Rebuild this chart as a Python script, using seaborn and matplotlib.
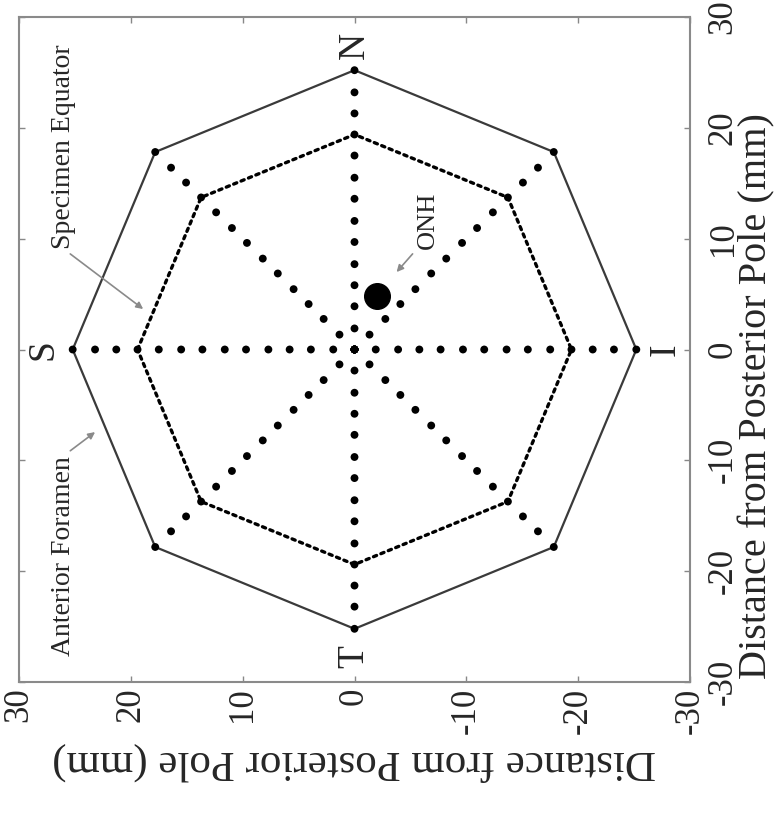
import numpy as np
import pandas as pd
import matplotlib
matplotlib.use("Agg")
import matplotlib.pyplot as plt
import seaborn as sns

# spoke sampling points (mm from posterior pole, along each meridian)
spoke_angles = [0, 45, 90, 135, 180, 225, 270, 315]
spoke_radii = [0, 1.9, 3.9, 5.8, 7.7, 9.7, 11.6, 13.6, 15.5, 17.5, 19.4, 21.3, 23.2, 25.2]
foramen_radius = 25.2   # anterior foramen (solid octagon)
equator_radius = 19.4   # specimen equator (dotted octagon)
onh_pos = (-2.0, 4.8)   # optic nerve head
compass_labels = ["N", "S", "I", "T"]
compass_angles = [90, 0, 180, 270]
compass_radius = [27.4, 27.8, 27.8, 27.7]
ticks = [-30, -20, -10, 0, 10, 20, 30]

sns.set_theme(style="white")
plt.rcParams["font.family"] = ["Liberation Serif", "DejaVu Serif"]
plt.rcParams["axes.unicode_minus"] = False

# build point table
rows = []
for a in spoke_angles:
    for r in spoke_radii:
        rows.append({"x": r * np.cos(np.deg2rad(a)), "y": r * np.sin(np.deg2rad(a))})
pts = pd.DataFrame(rows)

def octagon(r):
    ang = np.deg2rad(spoke_angles + [spoke_angles[0]])
    return pd.DataFrame({"x": r * np.cos(ang), "y": r * np.sin(ang)})

outer = octagon(foramen_radius)
inner = octagon(equator_radius)

fig = plt.figure(figsize=(7.81, 8.16), dpi=100)
ax = fig.add_axes([19 / 781, 1 - 682 / 816, 671 / 781, 665 / 816])

sns.lineplot(data=outer, x="x", y="y", sort=False, estimator=None, color="#3a3a3a",
             lw=1.6, ax=ax)
sns.lineplot(data=inner, x="x", y="y", sort=False, estimator=None, color="black",
             lw=2.4, ax=ax)
ax.lines[-1].set_linestyle((0, (1, 1.4)))
ax.lines[-1].set_dash_capstyle("round")
sns.scatterplot(data=pts, x="x", y="y", s=32, color="black", edgecolor="none", ax=ax, zorder=3)
ax.scatter([onh_pos[0]], [onh_pos[1]], s=340, color="black", zorder=4)

for lab, a, r in zip(compass_labels, compass_angles, compass_radius):
    ax.text(r * np.cos(np.deg2rad(a)), r * np.sin(np.deg2rad(a)), lab, rotation=90,
            ha="center", va="center", fontsize=27)

arrow = dict(arrowstyle="-|>", color="#8a8a8a", lw=1.2, mutation_scale=10)
ax.annotate("Specimen Equator", xy=(18.7, 3.5), xytext=(26.0, 18.3), rotation=90,
            ha="center", va="center", fontsize=20, arrowprops=dict(arrow, relpos=(0.5, 0)))
ax.annotate("Anterior Foramen", xy=(23.0, -7.3), xytext=(26.0, -18.6), rotation=90,
            ha="center", va="center", fontsize=20, arrowprops=dict(arrow, relpos=(0.5, 1)))
ax.annotate("ONH", xy=(-3.6, 6.8), xytext=(-6.6, 11.7), rotation=90,
            ha="center", va="center", fontsize=19, arrowprops=dict(arrow, relpos=(0, 0)))

ax.set_xlim(30, -30)
ax.set_ylim(-30, 30)
ax.set_xticks(ticks)
ax.set_yticks(ticks)
ax.yaxis.tick_right()
ax.yaxis.set_label_position("right")
ax.tick_params(axis="both", direction="in", length=4, width=1, color="#888888",
               labelsize=25, top=True, left=True, right=True, bottom=True)
ax.tick_params(axis="x", pad=4, labelrotation=90)
ax.tick_params(axis="y", pad=12, labelrotation=90)
for lbl in ax.get_yticklabels():
    lbl.set_va("center")
ax.set_xlabel("Distance from Posterior Pole (mm)", fontsize=31, rotation=180, labelpad=6)
ax.set_ylabel("Distance from Posterior Pole (mm)", fontsize=29, rotation=90)
ax.yaxis.set_label_coords(1.072, 0.43)
for sp in ax.spines.values():
    sp.set_color("#8a8a8a")
    sp.set_linewidth(1.5)
ax.grid(False)

fig.savefig("out.png", dpi=100)
